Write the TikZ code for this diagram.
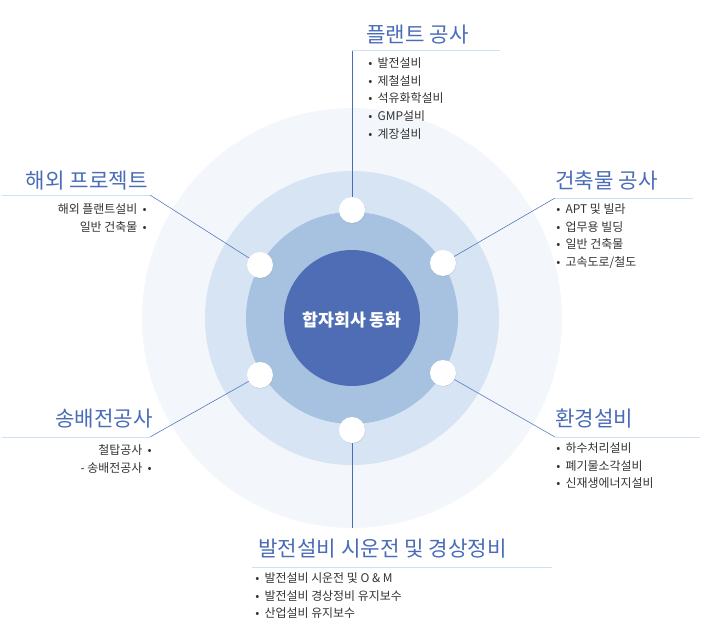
\documentclass[tikz,border=0pt]{standalone}
\usepackage{fontspec}
\setmainfont{Noto Sans CJK KR}
\usetikzlibrary{positioning,shadows}
\definecolor{ringA}{HTML}{F3F6FB}
\definecolor{ringB}{HTML}{D6E4F4}
\definecolor{ringC}{HTML}{A7C2E0}
\definecolor{coreblue}{HTML}{4E6DB4}
\definecolor{titleblue}{HTML}{4A6CB8}
\definecolor{rulecol}{HTML}{CFE0F4}
\definecolor{txtgray}{HTML}{333333}
\begin{document}
\begin{tikzpicture}[x=0.0265cm,y=-0.0265cm,
  dot node/.style={circle,fill=white,minimum size=26*0.0265cm,inner sep=0pt,
                   drop shadow={opacity=0.25,shadow xshift=0.3pt,shadow yshift=-0.5pt}},
  title node/.style={font=\fontsize{16}{18}\selectfont,text=titleblue,inner sep=0pt},
  list node/.style={font=\fontsize{9}{13.5}\selectfont,text=txtgray,inner sep=0pt},
  link/.style={draw=titleblue,thin},
  rule/.style={draw=rulecol,thin}]
  \useasboundingbox (0,0) rectangle (705,638);
  % rings
  \fill[ringA] (352,318) circle (210);
  \fill[ringB] (352,318) circle (147);
  \fill[ringC] (352,318) circle (106);
  \fill[coreblue] (352,318) circle (68);
  \node[text=white,font=\fontsize{13}{15}\selectfont\bfseries] (core) at (352,320) {합자회사 동화};

  % end points of the links
  \coordinate (pT) at (352,50);
  \coordinate (pRT) at (555,198);
  \coordinate (pRB) at (555,437);
  \coordinate (pB) at (352,528);
  \coordinate (pLT) at (150,195);
  \coordinate (pLB) at (150,437);

  \draw[link] (352,210) -- (pT);
  \draw[link] (443,263) -- (pRT);
  \draw[link] (443,373) -- (pRB);
  \draw[link] (352,430) -- (pB);
  \draw[link] (260,265) -- (pLT);
  \draw[link] (260,375) -- (pLB);

  \node[dot node] (d1) at (352,210) {};
  \node[dot node] (d2) at (443,263) {};
  \node[dot node] (d3) at (443,373) {};
  \node[dot node] (d4) at (352,430) {};
  \node[dot node] (d5) at (260,375) {};
  \node[dot node] (d6) at (260,265) {};

  % underlines
  \coordinate (uT) at (500,50);
  \coordinate (uRT) at (693,198);
  \coordinate (uRB) at (700,437);
  \coordinate (uB1) at (252,567);
  \coordinate (uB2) at (552,567);
  \coordinate (uLT) at (2,195);
  \coordinate (uLB) at (2,437);
  \draw[rule] (pT) -- (uT);
  \draw[rule] (pRT) -- (uRT);
  \draw[rule] (pRB) -- (uRB);
  \draw[rule] (uB1) -- (uB2);
  \draw[rule] (pLT) -- (uLT);
  \draw[rule] (pLB) -- (uLB);

  % titles
  \node[title node,anchor=west] (tT) at (366,35) {플랜트 공사};
  \node[title node,anchor=west] (tRT) at (555,181) {건축물 공사};
  \node[title node,anchor=west] (tRB) at (555,419) {환경설비};
  \node[title node,anchor=west] (tB) at (258,549) {발전설비 시운전 및 경상정비};
  \node[title node,anchor=east] (tLT) at (148,181) {해외 프로젝트};
  \node[title node,anchor=east] (tLB) at (153,419) {송배전공사};

  % lists
  \node[list node,anchor=north west,align=left] (lT) at (368,57)
    {•\ \ 발전설비\\•\ \ 제철설비\\•\ \ 석유화학설비\\•\ \ GMP설비\\•\ \ 계장설비};
  \node[list node,anchor=north west,align=left] (lRT) at (556,203)
    {•\ \ APT 및 빌라\\•\ \ 업무용 빌딩\\•\ \ 일반 건축물\\•\ \ 고속도로/철도};
  \node[list node,anchor=north west,align=left] (lRB) at (556,442)
    {•\ \ 하수처리설비\\•\ \ 폐기물소각설비\\•\ \ 신재생에너지설비};
  \node[list node,anchor=north west,align=left] (lB) at (255,572)
    {•\ \ 발전설비 시운전 및 O \& M\\•\ \ 발전설비 경상정비 유지보수\\•\ \ 산업설비 유지보수};
  \node[list node,anchor=north east,align=right] (lLT) at (147,203)
    {해외 플랜트설비\ \ •\\일반 건축물\ \ •};
  \node[list node,anchor=north east,align=right] (lLB) at (152,444)
    {철탑공사\ \ •\\- 송배전공사\ \ •};
\end{tikzpicture}
\end{document}
